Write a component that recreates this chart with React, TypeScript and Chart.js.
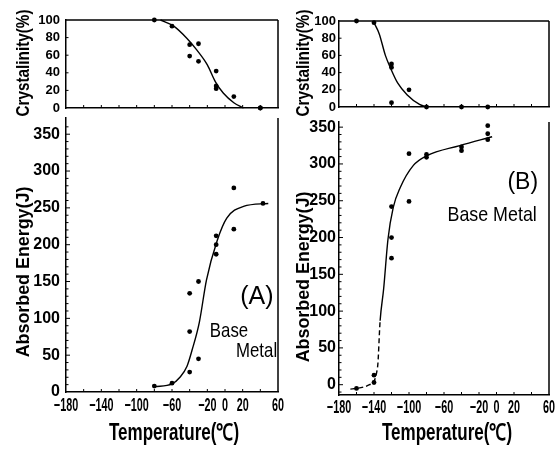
import React, { useEffect, useRef } from "react";
import { Chart, registerables } from "chart.js";
Chart.register(...registerables);

// ---------- shared axis ticks ----------
const tempTicks = [-180, -140, -100, -60, -20, 0, 20, 60];
const tempMinor = [-160, -140, -120, -100, -80, -60, -40, -20, 0, 20, 40];
const crystTicks = [0, 20, 40, 60, 80, 100];
const energyTicks = [0, 50, 100, 150, 200, 250, 300, 350];

// ---------- Panel (A) ----------
const aCrystTemp = [-80, -60, -40, -40, -30, -30, -10, -10, -10, 10, 40, 40];
const aCrystPct = [100, 93, 72, 59, 73, 53, 42, 25, 22, 13, 0, 0];
const aCrystFitTemp = [-73, -58, -43, -32, -20, -11, -2, 10, 21];
const aCrystFitPct = [100, 93, 79, 66, 49, 30, 17, 6, 0];

const aEnergyTemp = [-80, -60, -40, -40, -40, -30, -30, -10, -10, -10, 10, 10, 43];
const aEnergyJ = [8, 12, 27, 82, 134, 45, 150, 187, 200, 212, 221, 277, 256];
const aEnergyFitTemp = [-80, -60, -51, -43, -37, -29, -21, -9, 2, 21, 49];
const aEnergyFitJ = [7, 11, 20, 35, 58, 95, 152, 205, 236, 252, 256];

// ---------- Panel (B) ----------
const bCrystTemp = [-160, -140, -120, -120, -120, -100, -80, -40, -10];
const bCrystPct = [100, 98, 50, 46, 5, 20, 0, 0, 0];
const bCrystFitTemp = [-140, -134, -127, -121, -113, -102, -88, -80];
const bCrystFitPct = [98, 85, 60, 45, 28, 14, 3, 0];

const bEnergyTemp = [-160, -140, -140, -120, -120, -120, -100, -100, -80, -80, -40, -40, -10, -10, -10];
const bEnergyJ = [-5, 3, 13, 172, 200, 242, 249, 314, 309, 313, 318, 323, 333, 341, 352];
const bEnergyFitTemp = [-167, -160, -145, -136, -133, -129, -124, -118, -110, -95, -80, -42, -5];
const bEnergyFitJ = [-6, -5, 0, 23, 87, 130, 198, 241, 268, 298, 311, 325, 337];

const SANS = "'Liberation Sans', Arial, sans-serif";

const toXY = (xs: number[], ys: number[]) => xs.map((x, i) => ({ x, y: ys[i] }));
const fmtTemp = (v: number) => (v < 0 ? "\u2212" + Math.abs(v) : String(v));

function drawText(ctx: CanvasRenderingContext2D, t: any, x: number, y: number) {
  ctx.save();
  ctx.translate(x, y);
  if (t.rot) ctx.rotate(-Math.PI / 2);
  ctx.scale(t.sx || 1, 1);
  ctx.font = t.font;
  ctx.fillStyle = "#000";
  ctx.textAlign = t.align || "center";
  ctx.textBaseline = "middle";
  ctx.fillText(t.text, 0, 0);
  ctx.restore();
}

function makeDecor(cfg: any) {
  return {
    id: "decor",
    afterDatasetsDraw(chart: any) {
      const { ctx, chartArea: ca, scales } = chart;
      ctx.save();
      ctx.strokeStyle = "#000";
      ctx.lineWidth = 1.5;
      ctx.beginPath();
      for (const side of cfg.sides || []) {
        if (side === "top") { ctx.moveTo(ca.left, ca.top); ctx.lineTo(ca.right, ca.top); }
        if (side === "right") { ctx.moveTo(ca.right, ca.top); ctx.lineTo(ca.right, ca.bottom); }
      }
      ctx.stroke();
      ctx.lineWidth = 1;
      ctx.beginPath();
      for (const v of cfg.xMinor || []) {
        const px = scales.x.getPixelForValue(v);
        ctx.moveTo(px, ca.bottom); ctx.lineTo(px, ca.bottom - 3);
      }
      for (const v of cfg.yMinor || []) {
        const py = scales.y.getPixelForValue(v);
        const len = v % 50 === 0 ? 4 : 2.5;
        ctx.moveTo(ca.left, py); ctx.lineTo(ca.left + len, py);
      }
      ctx.stroke();
      ctx.restore();
      // x tick labels (through the x scale)
      if (cfg.xLabels) {
        for (const v of tempTicks) {
          drawText(ctx, { text: fmtTemp(v), font: `bold 18px ${SANS}`, sx: 0.6 },
            scales.x.getPixelForValue(v), ca.bottom + cfg.xLabelGap);
        }
      }
      // annotations in data coordinates
      for (const l of cfg.labels || []) {
        drawText(ctx, l, scales.x.getPixelForValue(l.x), scales.y.getPixelForValue(l.y));
      }
      // axis titles placed in the canvas
      for (const t of cfg.titles || []) drawText(ctx, t, t.cx, t.cy);
    },
  };
}

function buildConfig(p: any) {
  const datasets: any[] = [
    {
      data: toXY(p.fitX, p.fitY),
      borderColor: "#000",
      borderWidth: 1.4,
      pointRadius: 0,
      cubicInterpolationMode: "monotone",
      fill: false,
      clip: false,
      segment: p.dashBelow !== undefined
        ? { borderDash: (c: any) => (c.p1.parsed.x <= p.dashBelow ? [5, 3] : undefined) }
        : undefined,
    },
    {
      data: toXY(p.ptX, p.ptY),
      showLine: false,
      pointRadius: 2.4,
      pointBackgroundColor: "#000",
      pointBorderColor: "#000",
      pointBorderWidth: 0,
      clip: false,
    },
  ];
  const yMinor: number[] = [];
  for (let v = p.yMinorStart; v <= p.yMinorEnd; v += p.yMinorStep) yMinor.push(v);
  return {
    type: "line",
    data: { datasets },
    options: {
      animation: false,
      responsive: false,
      devicePixelRatio: 1,
      events: [],
      layout: { padding: { left: 0, top: p.padTop, right: p.padRight, bottom: 0 } },
      plugins: { legend: { display: false }, tooltip: { enabled: false } },
      scales: {
        x: {
          type: "linear",
          min: -180,
          max: 60,
          afterBuildTicks: (s: any) => { s.ticks = tempTicks.map((v) => ({ value: v })); },
          afterFit: (s: any) => { s.height = p.xHeight; s.paddingLeft = 0; s.paddingRight = 0; },
          grid: { display: false, drawTicks: false },
          border: { display: true, color: "#000", width: 1.5 },
          ticks: { display: false },
        },
        y: {
          type: "linear",
          min: p.yMin,
          max: p.yMax,
          afterBuildTicks: (s: any) => { s.ticks = p.yTicks.map((v: number) => ({ value: v })); },
          afterFit: (s: any) => { s.width = p.yWidth; s.paddingTop = 0; s.paddingBottom = 0; },
          grid: { display: false, drawTicks: false },
          border: { display: true, color: "#000", width: 1.5 },
          ticks: {
            autoSkip: false,
            padding: p.yTickPad,
            color: "#000",
            font: { family: SANS, size: p.yTickSize, weight: "bold", lineHeight: 1 },
          },
        },
      },
    },
    plugins: [makeDecor({
      sides: p.sides, xMinor: tempMinor, yMinor, labels: p.labels || [],
      titles: p.titles || [], xLabels: p.xLabels, xLabelGap: p.xLabelGap,
    })],
  };
}

const crystTitle = { text: "Crystalinity(%)", font: `bold 18px ${SANS}`, sx: 0.85, rot: true };
const energyTitle = { text: "Absorbed Energy(J)", font: `bold 19px ${SANS}`, sx: 0.94, rot: true };
const tempTitle = { text: "Temperature(\u2103)", font: `bold 23px ${SANS}`, sx: 0.74 };

const panels = [
  {
    key: "topA", left: 0, top: 0, width: 290, height: 122,
    padTop: 20, padRight: 12, xHeight: 14, yWidth: 66,
    yMin: 0, yMax: 100, yTicks: crystTicks, yTickSize: 13, yTickPad: 6,
    yMinorStart: 20, yMinorEnd: 80, yMinorStep: 20,
    sides: ["top", "right"],
    titles: [{ ...crystTitle, cx: 24, cy: 63 }],
    fitX: aCrystFitTemp, fitY: aCrystFitPct, ptX: aCrystTemp, ptY: aCrystPct,
  },
  {
    key: "botA", left: 0, top: 113, width: 290, height: 337,
    padTop: 5, padRight: 12, xHeight: 58, yWidth: 66,
    yMin: 0, yMax: 372, yTicks: energyTicks, yTickSize: 16, yTickPad: 6,
    yMinorStart: 10, yMinorEnd: 360, yMinorStep: 10,
    sides: ["right"], xLabels: true, xLabelGap: 14,
    titles: [{ ...energyTitle, cx: 24, cy: 159 }, { ...tempTitle, cx: 174, cy: 321 }],
    fitX: aEnergyFitTemp, fitY: aEnergyFitJ, ptX: aEnergyTemp, ptY: aEnergyJ,
    labels: [
      { text: "(A)", x: 36, y: 129, font: `25px ${SANS}` },
      { text: "Base", x: 4.5, y: 83, font: `21px ${SANS}`, sx: 0.8 },
      { text: "Metal", x: 59, y: 56, font: `21px ${SANS}`, sx: 0.8, align: "right" },
    ],
  },
  {
    key: "topB", left: 282, top: 0, width: 278, height: 122,
    padTop: 21, padRight: 11, xHeight: 15, yWidth: 57,
    yMin: 0, yMax: 100, yTicks: crystTicks, yTickSize: 13, yTickPad: 3,
    yMinorStart: 20, yMinorEnd: 80, yMinorStep: 20,
    sides: ["top", "right"],
    titles: [{ ...crystTitle, cx: 22, cy: 63 }],
    fitX: bCrystFitTemp, fitY: bCrystFitPct, ptX: bCrystTemp, ptY: bCrystPct,
  },
  {
    key: "botB", left: 282, top: 113, width: 278, height: 337,
    padTop: 9, padRight: 11, xHeight: 55, yWidth: 57,
    yMin: -14, yMax: 357, yTicks: energyTicks, yTickSize: 16, yTickPad: 3,
    yMinorStart: -10, yMinorEnd: 350, yMinorStep: 10,
    sides: ["right"], dashBelow: -133, xLabels: true, xLabelGap: 13,
    titles: [{ ...energyTitle, cx: 22, cy: 164 }, { ...tempTitle, cx: 165, cy: 321 }],
    fitX: bEnergyFitTemp, fitY: bEnergyFitJ, ptX: bEnergyTemp, ptY: bEnergyJ,
    labels: [
      { text: "(B)", x: 30, y: 274, font: `23px ${SANS}` },
      { text: "Base Metal", x: -5, y: 231, font: `21px ${SANS}`, sx: 0.85 },
    ],
  },
];

function ChartBox({ p }: { p: any }) {
  const ref = useRef<HTMLCanvasElement>(null);
  useEffect(() => {
    const chart = new Chart(ref.current as HTMLCanvasElement, buildConfig(p) as any);
    return () => chart.destroy();
  }, []);
  return (
    <canvas
      ref={ref}
      width={p.width}
      height={p.height}
      style={{ position: "absolute", left: p.left, top: p.top, width: p.width, height: p.height }}
    />
  );
}

export default function App() {
  return (
    <div style={{ position: "absolute", left: 0, top: 0, width: 560, height: 450, background: "#fff", overflow: "hidden" }}>
      {panels.map((p) => (
        <ChartBox key={p.key} p={p} />
      ))}
    </div>
  );
}
